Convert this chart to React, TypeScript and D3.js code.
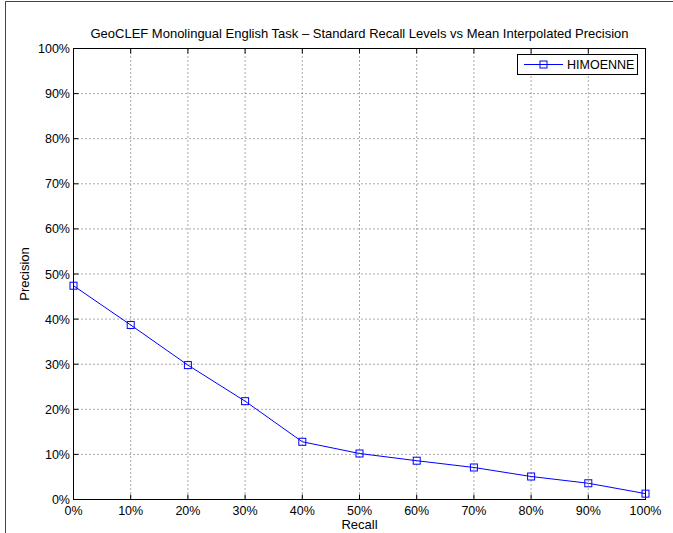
import React from "react";
import * as d3 from "d3";

const recallLevels = [0, 10, 20, 30, 40, 50, 60, 70, 80, 90, 100];
const precisionValues = [47.4, 38.7, 29.8, 21.8, 12.8, 10.2, 8.6, 7.1, 5.1, 3.6, 1.3];
const yTicks = [0, 10, 20, 30, 40, 50, 60, 70, 80, 90, 100];
const seriesName = "HIMOENNE";
const title = "GeoCLEF Monolingual English Task \u2013 Standard Recall Levels vs Mean Interpolated Precision";

export default function App() {
  const W = 673, H = 533;
  const left = 73.5, right = 645.5, top = 48.5, bottom = 499.5;
  const x = d3.scaleLinear().domain([0, 100]).range([left, right]);
  const y = d3.scaleLinear().domain([0, 100]).range([bottom, top]);
  const line = d3.line<number>().x((_, i) => x(recallLevels[i])).y((d) => y(d));
  const font = "'Liberation Sans', Arial, sans-serif";
  const tl = 5;
  return (
    <div style={{ position: "absolute", left: 0, top: 0 }}>
      <svg width={W} height={H} style={{ display: "block" }}>
        <rect x={0} y={0} width={W} height={H} fill="#fff" />
        <line x1={5.5} y1={1.5} x2={W} y2={1.5} stroke="#444" strokeWidth={1} />
        <line x1={5.5} y1={1.5} x2={5.5} y2={H} stroke="#444" strokeWidth={1} />
        {/* grid */}
        {recallLevels.slice(1, -1).map((r) => (
          <line key={"gx" + r} x1={x(r)} x2={x(r)} y1={top} y2={bottom} stroke="#555" strokeWidth={1} strokeDasharray="1,3" />
        ))}
        {yTicks.slice(1, -1).map((t) => (
          <line key={"gy" + t} x1={left} x2={right} y1={y(t)} y2={y(t)} stroke="#555" strokeWidth={1} strokeDasharray="1,3" />
        ))}
        {/* ticks */}
        {recallLevels.map((r) => (
          <g key={"tx" + r}>
            <line x1={x(r)} x2={x(r)} y1={bottom} y2={bottom - tl} stroke="#000" />
            <line x1={x(r)} x2={x(r)} y1={top} y2={top + tl} stroke="#000" />
            <text x={x(r)} y={515} textAnchor="middle" fontFamily={font} fontSize={12.5}>{r + "%"}</text>
          </g>
        ))}
        {yTicks.map((t) => (
          <g key={"ty" + t}>
            <line x1={left} x2={left + tl} y1={y(t)} y2={y(t)} stroke="#000" />
            <line x1={right} x2={right - tl} y1={y(t)} y2={y(t)} stroke="#000" />
            <text x={70} y={y(t) + 4.5} textAnchor="end" fontFamily={font} fontSize={12.5}>{t + "%"}</text>
          </g>
        ))}
        <rect x={left} y={top} width={right - left} height={bottom - top} fill="none" stroke="#000" strokeWidth={1} />
        {/* series */}
        <path d={line(precisionValues) || ""} fill="none" stroke="#0000ff" strokeWidth={1} />
        {precisionValues.map((v, i) => (
          <rect key={"m" + i} x={x(recallLevels[i]) - 3.5} y={y(v) - 3.5} width={7} height={7} fill="none" stroke="#0000ff" strokeWidth={1} />
        ))}
        {/* labels */}
        <text x={(left + right) / 2} y={38} textAnchor="middle" fontFamily={font} fontSize={13}>{title}</text>
        <text x={(left + right) / 2} y={529} textAnchor="middle" fontFamily={font} fontSize={13}>Recall</text>
        <text transform={`translate(29,${(top + bottom) / 2}) rotate(-90)`} textAnchor="middle" fontFamily={font} fontSize={13}>Precision</text>
        {/* legend */}
        <rect x={517.5} y={54.5} width={120} height={20} fill="#fff" stroke="#000" strokeWidth={1} />
        <line x1={524} x2={563} y1={64.5} y2={64.5} stroke="#0000ff" />
        <rect x={540} y={61} width={7} height={7} fill="none" stroke="#0000ff" />
        <text x={567} y={69} fontFamily={font} fontSize={12.5}>{seriesName}</text>
      </svg>
    </div>
  );
}
